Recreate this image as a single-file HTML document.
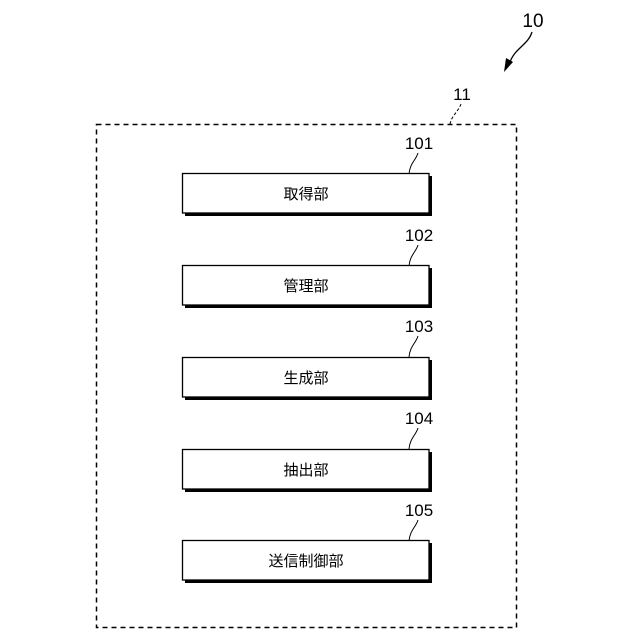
<!DOCTYPE html>
<html><head><meta charset="utf-8"><style>html,body{margin:0;padding:0;background:#fff}svg{display:block}</style></head>
<body>
<svg width="640" height="640" viewBox="0 0 640 640" xmlns="http://www.w3.org/2000/svg" font-family="Liberation Sans, Noto Sans CJK JP, sans-serif">
<rect x="96.5" y="124.5" width="420" height="503" fill="none" stroke="#000" stroke-width="1.5" stroke-dasharray="5,4"/>
<text x="533" y="27" font-size="19" text-anchor="middle">10</text>
<path d="M532 32 C528 45 515 48 510 62" fill="none" stroke="#000" stroke-width="1.3"/>
<polygon points="504,72 506,58 513,62" fill="#000"/>
<text x="462" y="100" font-size="17" text-anchor="middle">11</text>
<path d="M461 104 C458 112 452 115 450 124" fill="none" stroke="#000" stroke-width="1" stroke-dasharray="3,2"/>
<g font-size="17" text-anchor="middle">
<text x="419" y="149">101</text><text x="419" y="241">102</text><text x="419" y="332">103</text><text x="419" y="424">104</text><text x="419" y="516">105</text>
</g>
<g fill="none" stroke="#000" stroke-width="1">
<path d="M418 153 C416 160 410 163 409 174"/>
<path d="M418 245 C416 252 410 255 409 266"/>
<path d="M418 336 C416 343 410 346 409 357"/>
<path d="M418 428 C416 435 410 438 409 449"/>
<path d="M418 520 C416 527 410 530 409 541"/>
</g>
<g>
<rect x="185" y="176" width="247" height="40" fill="#000"/><rect x="182.5" y="173.5" width="246.5" height="39.5" fill="#fff" stroke="#000" stroke-width="1.3"/>
<rect x="185" y="268" width="247" height="40" fill="#000"/><rect x="182.5" y="265.5" width="246.5" height="39.5" fill="#fff" stroke="#000" stroke-width="1.3"/>
<rect x="185" y="360" width="247" height="40" fill="#000"/><rect x="182.5" y="357.5" width="246.5" height="39.5" fill="#fff" stroke="#000" stroke-width="1.3"/>
<rect x="185" y="452" width="247" height="40" fill="#000"/><rect x="182.5" y="449.5" width="246.5" height="39.5" fill="#fff" stroke="#000" stroke-width="1.3"/>
<rect x="185" y="543" width="247" height="40" fill="#000"/><rect x="182.5" y="540.5" width="246.5" height="39.5" fill="#fff" stroke="#000" stroke-width="1.3"/>
</g>
<g font-size="15" text-anchor="middle">
<text x="306" y="199">取得部</text>
<text x="306" y="291">管理部</text>
<text x="306" y="383">生成部</text>
<text x="306" y="475">抽出部</text>
<text x="306" y="566">送信制御部</text>
</g>
</svg>
</body></html>
